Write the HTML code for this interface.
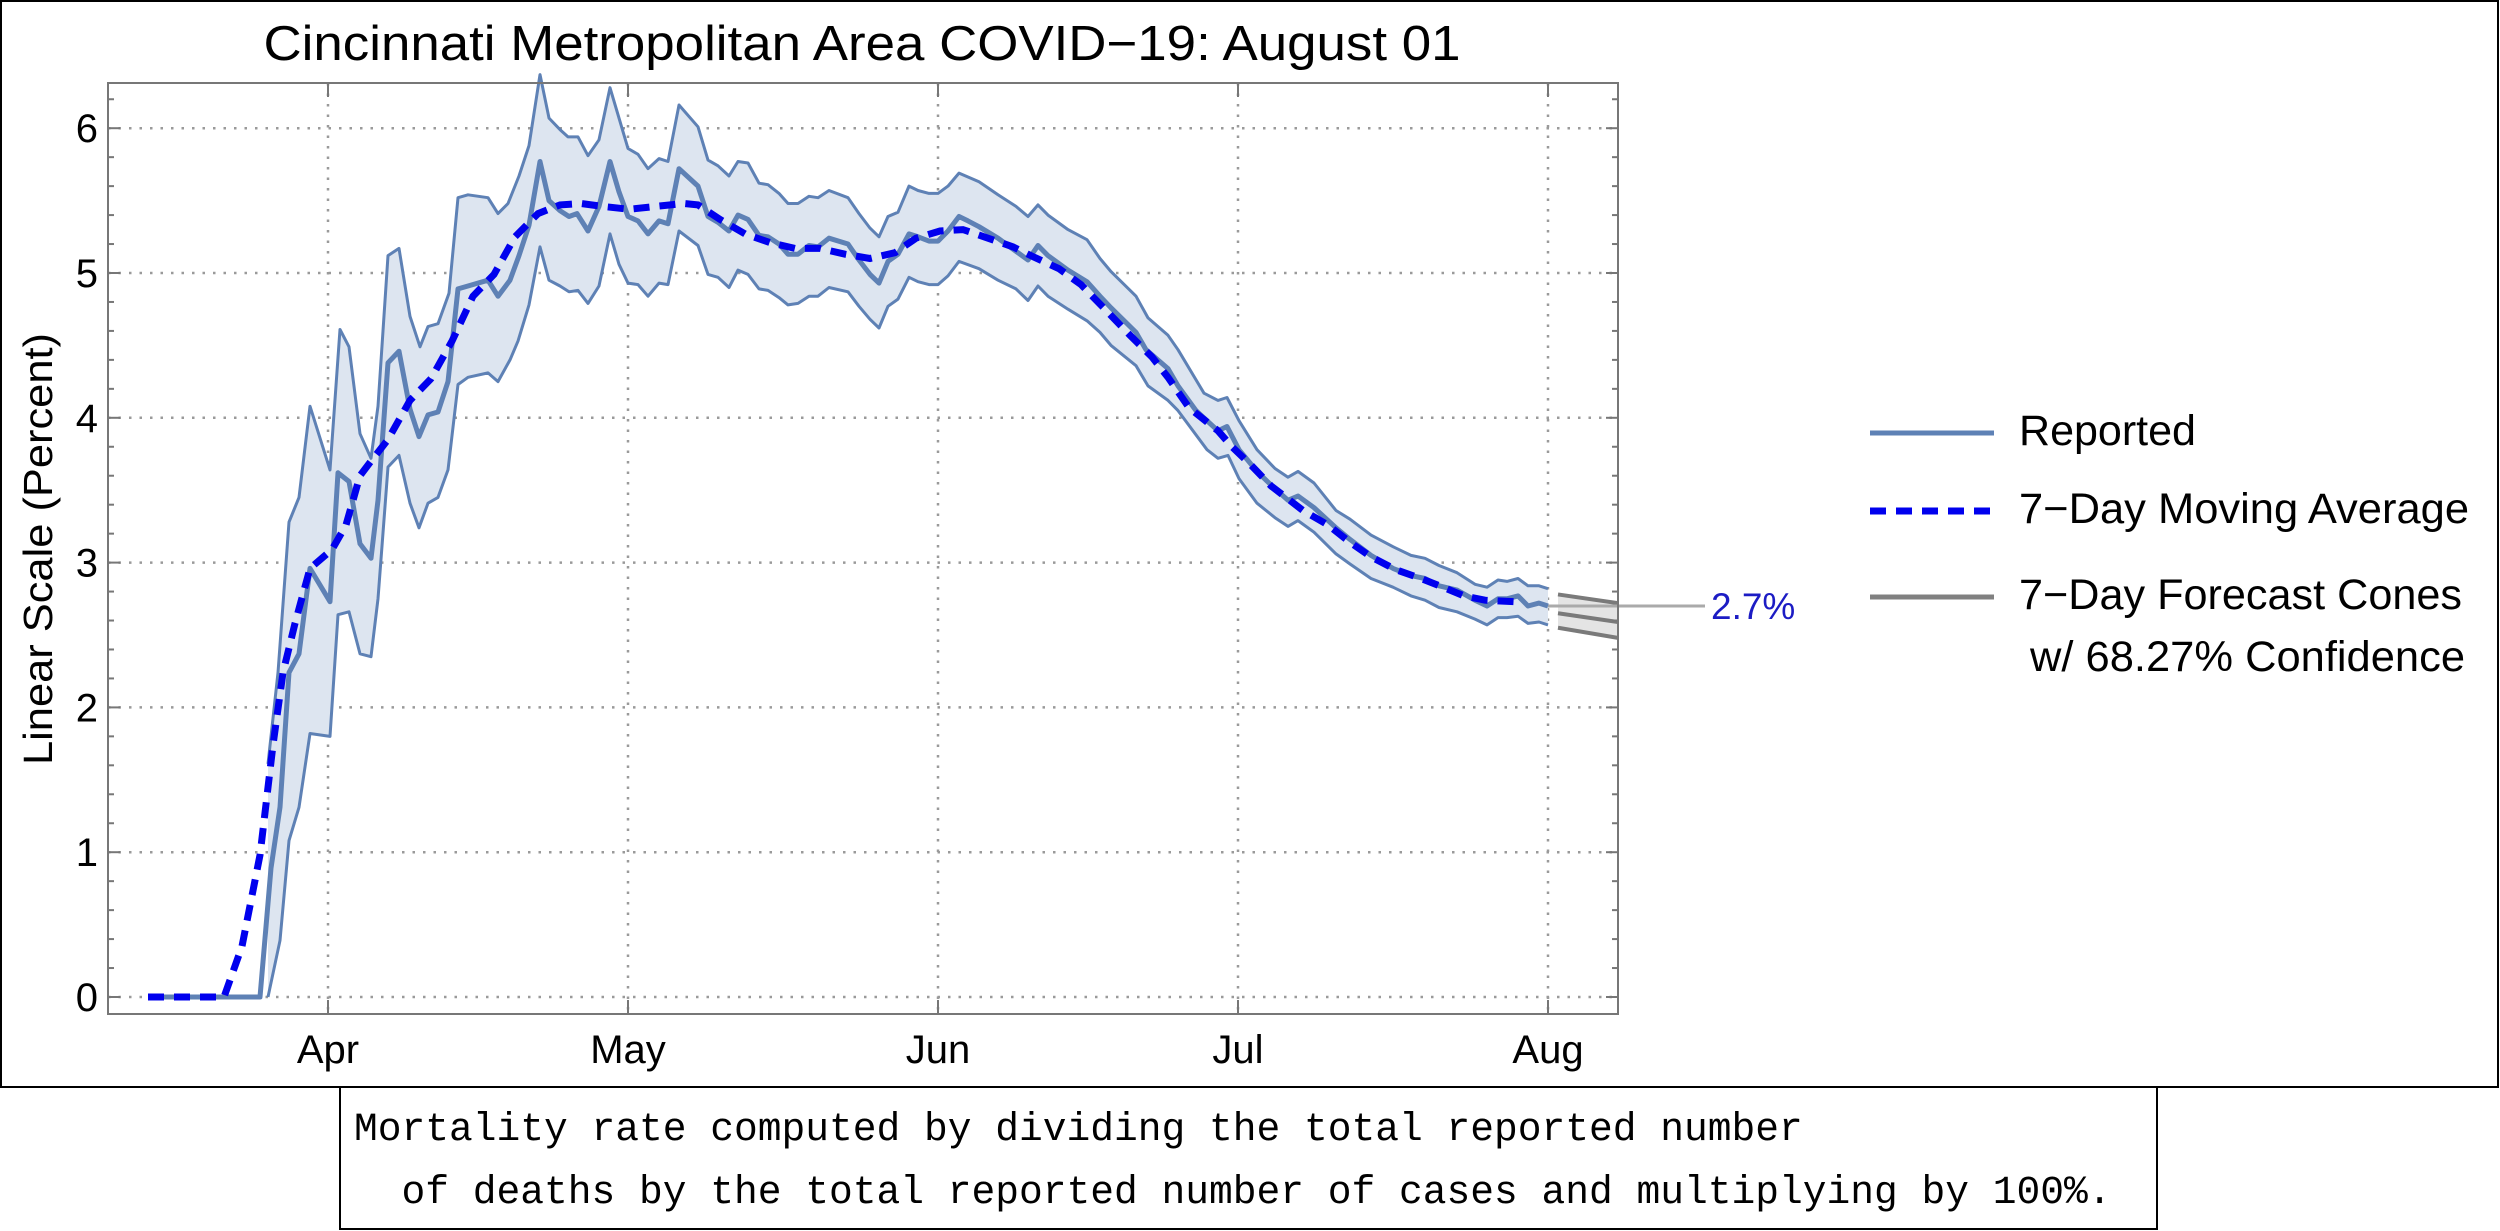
<!DOCTYPE html>
<html><head><meta charset="utf-8"><title>Cincinnati COVID-19 Mortality</title>
<style>
html,body{margin:0;padding:0;background:#fff;}
svg{display:block;}
text{font-family:"Liberation Sans",sans-serif;}
.mono{font-family:"Liberation Mono","DejaVu Sans Mono",monospace;}
</style></head>
<body>
<svg id="chart" xmlns="http://www.w3.org/2000/svg" width="2500" height="1231" viewBox="0 0 2500 1231">
  <rect x="1" y="1" width="2497" height="1086" fill="#fff" stroke="#000" stroke-width="2"/>
  <text x="862" y="60" font-size="49" text-anchor="middle" textLength="1197" lengthAdjust="spacingAndGlyphs">Cincinnati Metropolitan Area COVID−19: August 01</text>
  <text transform="translate(52,549) rotate(-90)" font-size="41" text-anchor="middle" textLength="432" lengthAdjust="spacingAndGlyphs">Linear Scale (Percent)</text>
  <g id="grid"></g>
  <g id="marks"></g>
  <rect x="108" y="83" width="1510" height="931" fill="none" stroke="#777" stroke-width="2"/>
  <g id="ticks"></g>
  <g id="legend">
    <line x1="1870" y1="433" x2="1994" y2="433" stroke="#5e81b5" stroke-width="5"/>
    <text x="2019" y="445" font-size="43" textLength="177" lengthAdjust="spacingAndGlyphs">Reported</text>
    <line x1="1870" y1="511" x2="1990" y2="511" stroke="#0000ee" stroke-width="7" stroke-dasharray="16 10"/>
    <text x="2019" y="523" font-size="43" textLength="450" lengthAdjust="spacingAndGlyphs">7−Day Moving Average</text>
    <line x1="1870" y1="597" x2="1994" y2="597" stroke="#808080" stroke-width="5"/>
    <text x="2019" y="609" font-size="43" textLength="443" lengthAdjust="spacingAndGlyphs">7−Day Forecast Cones</text>
    <text x="2030" y="671" font-size="43" textLength="435" lengthAdjust="spacingAndGlyphs">w/ 68.27% Confidence</text>
  </g>
  <rect x="340" y="1087" width="1817" height="142" fill="#fff" stroke="#000" stroke-width="2"/>
  <text class="mono" x="354" y="1140" font-size="39.6" xml:space="preserve">Mortality rate computed by dividing the total reported number</text>
  <text class="mono" x="354" y="1203" font-size="39.6" xml:space="preserve">  of deaths by the total reported number of cases and multiplying by 100%.</text>
</svg>
<script>
// ---- data (x = days since Apr 1, y = percent) ----
const monthTickDays = [0, 30, 61, 91, 122];
const monthTickLabels = ['Apr', 'May', 'Jun', 'Jul', 'Aug'];
const yTickValues = [0, 1, 2, 3, 4, 5, 6];
const reported = [[-18,0],[-6.8,0],[-5.7,0.89],[-4.8,1.31],[-3.9,2.24],[-2.9,2.37],[-1.8,2.96],[0.2,2.73],[1,3.62],[2.1,3.56],[3.2,3.13],[4.3,3.03],[5,3.43],[6,4.38],[7.1,4.46],[8.2,4.06],[9.1,3.87],[10,4.02],[11,4.04],[12,4.25],[13,4.89],[14,4.91],[16,4.95],[17,4.84],[18.2,4.95],[19.1,5.12],[20.1,5.33],[21.2,5.77],[22.1,5.50],[23.2,5.43],[24.1,5.39],[24.9,5.41],[26,5.29],[27.1,5.46],[28.2,5.77],[29.1,5.56],[30,5.39],[31,5.36],[32,5.27],[33.1,5.36],[34,5.34],[35.1,5.72],[37,5.60],[38,5.39],[39,5.35],[40.1,5.29],[41,5.40],[42,5.37],[43.1,5.26],[44,5.25],[45.1,5.20],[46,5.13],[47,5.13],[48.1,5.19],[49,5.18],[50.1,5.24],[52,5.20],[53.1,5.09],[54.2,4.99],[55.1,4.93],[56,5.08],[57,5.13],[58.1,5.27],[59,5.25],[60.1,5.22],[61,5.22],[62,5.29],[63.1,5.39],[64,5.36],[65.1,5.32],[67,5.24],[68.8,5.15],[70,5.09],[71,5.19],[72,5.12],[74,5.02],[75.9,4.94],[77.2,4.84],[78.3,4.76],[80.8,4.59],[81.8,4.47],[84,4.34],[85,4.22],[86.8,4.05],[89,3.91],[89.9,3.94],[91.1,3.78],[92.9,3.63],[94.7,3.51],[96,3.43],[97,3.46],[98.6,3.38],[100.8,3.24],[102.2,3.16],[104.3,3.05],[106.5,2.96],[108.3,2.91],[109.7,2.89],[111.1,2.84],[112.9,2.81],[114.7,2.74],[115.9,2.70],[117,2.75],[117.9,2.75],[119,2.77],[120,2.70],[121.1,2.72],[122,2.70]];
const upperBand = [[-6,1.61],[-5,2.24],[-3.9,3.28],[-2.9,3.45],[-1.8,4.08],[0.2,3.64],[1.2,4.61],[2.1,4.49],[3.2,3.89],[4.3,3.72],[5,4.08],[6,5.12],[7.1,5.17],[8.2,4.70],[9.2,4.49],[10,4.63],[11,4.65],[12.1,4.86],[13,5.52],[14,5.54],[16,5.52],[17,5.41],[18,5.48],[19.1,5.67],[20.1,5.88],[21.2,6.37],[22.1,6.07],[23.2,5.99],[24,5.94],[25,5.94],[26,5.81],[27.1,5.92],[28.2,6.28],[29.1,6.07],[30,5.86],[31,5.82],[32,5.72],[33.1,5.79],[34,5.77],[35.1,6.16],[37,6.01],[38,5.78],[39,5.74],[40.1,5.67],[41,5.77],[42,5.76],[43.1,5.62],[44,5.61],[45.1,5.55],[46,5.48],[47,5.48],[48.1,5.53],[49,5.52],[50.1,5.57],[52,5.52],[53.1,5.41],[54.2,5.31],[55.1,5.25],[56,5.39],[57,5.42],[58.1,5.60],[59,5.57],[60.1,5.55],[61,5.55],[62,5.60],[63.1,5.69],[65.1,5.63],[67,5.54],[68.8,5.46],[70,5.39],[71,5.47],[72,5.40],[74,5.30],[75.9,5.23],[77.2,5.10],[78.3,5.01],[80.8,4.84],[82,4.69],[84,4.57],[85,4.47],[87.6,4.17],[89,4.12],[89.9,4.14],[91.1,3.98],[92.9,3.78],[94.7,3.65],[96,3.59],[97,3.63],[98.6,3.55],[100.8,3.36],[102.2,3.30],[104.3,3.19],[106.5,3.11],[108.3,3.05],[109.7,3.03],[111.1,2.98],[112.9,2.93],[114.7,2.85],[115.9,2.83],[117,2.88],[117.9,2.87],[119,2.89],[120,2.84],[121.1,2.84],[122,2.82]];
const lowerBand = [[-6,0],[-4.8,0.39],[-3.9,1.08],[-2.9,1.31],[-1.8,1.82],[0.2,1.80],[1,2.64],[2.1,2.66],[3.2,2.37],[4.3,2.35],[5,2.75],[6,3.66],[7.1,3.74],[8.2,3.41],[9.1,3.24],[10,3.41],[11,3.45],[12,3.64],[13,4.23],[14,4.28],[16,4.31],[17,4.25],[18.2,4.40],[19,4.53],[20.1,4.78],[21.2,5.18],[22.1,4.95],[23.2,4.91],[24.1,4.87],[25,4.88],[26,4.79],[27.1,4.91],[28.2,5.27],[29.1,5.06],[30,4.93],[31,4.92],[32,4.84],[33.1,4.93],[34,4.92],[35.1,5.29],[37,5.19],[38,4.99],[39,4.97],[40.1,4.90],[41,5.02],[42,4.99],[43.1,4.89],[44,4.88],[45.1,4.83],[46,4.78],[47,4.79],[48.1,4.84],[49,4.84],[50.1,4.90],[52,4.87],[53.1,4.77],[54.2,4.68],[55.1,4.62],[56,4.77],[57,4.82],[58.1,4.97],[59,4.94],[60.1,4.92],[61,4.92],[62,4.98],[63.1,5.08],[65.1,5.03],[67,4.95],[68.8,4.89],[70,4.81],[71,4.91],[72,4.84],[74,4.75],[75.9,4.67],[77.2,4.59],[78.3,4.50],[80.8,4.36],[82,4.22],[84,4.12],[85,4.05],[87.9,3.78],[89,3.72],[90,3.74],[91.1,3.58],[92.9,3.41],[94.7,3.31],[96,3.25],[97,3.29],[98.6,3.21],[100.8,3.06],[102.2,2.99],[104.3,2.89],[106.5,2.83],[108.3,2.77],[109.7,2.74],[111.1,2.69],[112.9,2.66],[114.7,2.61],[115.9,2.57],[117,2.62],[117.9,2.62],[119,2.63],[120,2.58],[121.1,2.59],[122,2.57]];
const movingAverage = [[-18,0],[-10.4,0],[-8.6,0.35],[-6.8,0.98],[-5.5,1.74],[-4.5,2.24],[-3.3,2.58],[-1.8,2.96],[0.4,3.09],[1.8,3.26],[3.2,3.60],[4.3,3.70],[6,3.85],[8.2,4.12],[10.3,4.27],[12.4,4.53],[14.5,4.84],[16.6,4.99],[18.7,5.25],[21,5.41],[23.2,5.47],[25.3,5.48],[27.5,5.46],[30.1,5.44],[32.8,5.46],[35.6,5.48],[37,5.47],[39.2,5.37],[41.7,5.27],[44.2,5.21],[46.7,5.17],[49.2,5.17],[51.7,5.13],[54.2,5.10],[56.7,5.14],[58.8,5.24],[61.2,5.29],[63.5,5.30],[65.6,5.25],[68.5,5.18],[70.6,5.11],[73.1,5.03],[75.3,4.92],[77.7,4.75],[80.2,4.57],[82.4,4.42],[84,4.28],[86.1,4.07],[89,3.91],[90.4,3.80],[92.2,3.68],[94.3,3.53],[97.5,3.36],[100,3.26],[102.2,3.14],[104.3,3.04],[106.8,2.95],[109.3,2.89],[111.5,2.83],[113.6,2.77],[115.7,2.74],[118.6,2.73]];
const forecastDays = [123, 129];
const forecastUpper = [2.78, 2.72];
const forecastMid = [2.65, 2.59];
const forecastLower = [2.55, 2.48];
const latestValue = 2.7;
const latestLabel = '2.7%';

// ---- scales ----
const X0 = 328, PX_PER_DAY = 10.0;
const Y0 = 997, PX_PER_UNIT = 144.8;
const PLOT = {l: 108, r: 1618, t: 83, b: 1014};
function xs(d) { return X0 + d * PX_PER_DAY; }
function ys(v) { return Y0 - v * PX_PER_UNIT; }
const NS = 'http://www.w3.org/2000/svg';
function mk(tag, attrs, parent) {
  const e = document.createElementNS(NS, tag);
  for (const k in attrs) e.setAttribute(k, attrs[k]);
  parent.appendChild(e);
  return e;
}
function pts(arr) { return arr.map(p => xs(p[0]).toFixed(1) + ',' + ys(p[1]).toFixed(1)).join(' '); }

const grid = document.getElementById('grid');
const marks = document.getElementById('marks');
const ticks = document.getElementById('ticks');
const svg = document.getElementById('chart');

// clip
const defs = mk('defs', {}, svg);
const cp = mk('clipPath', {id: 'plotclip'}, defs);
mk('rect', {x: PLOT.l, y: PLOT.t, width: PLOT.r - PLOT.l, height: PLOT.b - PLOT.t}, cp);

// gridlines
yTickValues.forEach(v => {
  const g = mk('line', {x1: PLOT.l, x2: PLOT.r, y1: ys(v), y2: ys(v), stroke: '#9a9a9a', 'stroke-width': 2.5, 'stroke-dasharray': '2.5 8'}, grid);
  
  
});
monthTickDays.forEach(d => {
  const g = mk('line', {x1: xs(d), x2: xs(d), y1: PLOT.t, y2: PLOT.b, stroke: '#9a9a9a', 'stroke-width': 2.5, 'stroke-dasharray': '2.5 8'}, grid);
  
  
});

// band
const bandPts = pts(upperBand) + ' ' + pts(lowerBand.slice().reverse());
const band = mk('polygon', {points: bandPts, fill: '#dde5f0', stroke: 'none'}, marks);



// forecast cone
const cg = mk('g', {'clip-path': 'url(#plotclip)'}, marks);
const conePts = forecastDays.map((d, i) => xs(d) + ',' + ys(forecastUpper[i])).join(' ') + ' ' +
  forecastDays.slice().reverse().map((d, i) => xs(d) + ',' + ys(forecastLower[forecastDays.length - 1 - i])).join(' ');
const cone = mk('polygon', {points: conePts, fill: '#e4e4e4'}, cg);


[[forecastUpper, 'forecast-upper'], [forecastMid, 'forecast-mid'], [forecastLower, 'forecast-lower']].forEach(([arr, nm]) => {
  const l = mk('polyline', {points: forecastDays.map((d, i) => xs(d) + ',' + ys(arr[i])).join(' '), fill: 'none', stroke: '#7a7a7a', 'stroke-width': 4}, cg);
  
  
});

// latest value leader line
const lead = mk('line', {x1: xs(122), x2: 1705, y1: ys(latestValue), y2: ys(latestValue), stroke: '#aaaaaa', 'stroke-width': 3}, marks);


const lbl = mk('text', {x: 1711, y: ys(latestValue) + 13, 'font-size': 37, fill: '#1c1cc4'}, marks);


lbl.textContent = latestLabel;

// band edges
[[upperBand, 'band-upper-edge'], [lowerBand, 'band-lower-edge']].forEach(([arr, nm]) => {
  const l = mk('polyline', {points: pts(arr), fill: 'none', stroke: '#5e81b5', 'stroke-width': 3, 'stroke-linejoin': 'round'}, marks);
  
  
});
// reported
const rep = mk('polyline', {points: pts(reported), fill: 'none', stroke: '#5e81b5', 'stroke-width': 5, 'stroke-linejoin': 'round'}, marks);


// moving average
const ma = mk('polyline', {points: pts(movingAverage), fill: 'none', stroke: '#0000ee', 'stroke-width': 7, 'stroke-dasharray': '16 10'}, marks);



// y ticks (major + minor) and labels
for (let i = 0; i <= 31; i++) {
  const v = i * 0.2;
  const major = i % 5 === 0;
  const len = major ? 12 : 6;
  [[PLOT.l, PLOT.l + len], [PLOT.r, PLOT.r - len]].forEach(([a, b]) => {
    const t = mk('line', {x1: a, x2: b, y1: ys(v), y2: ys(v), stroke: '#777', 'stroke-width': 2}, ticks);
    
    
  });
}
yTickValues.forEach(v => {
  const t = mk('text', {x: 98, y: ys(v) + 14, 'font-size': 40, 'text-anchor': 'end'}, ticks);
  
  
  t.textContent = String(v);
});
// x ticks and labels
monthTickDays.forEach((d, i) => {
  const t = mk('line', {x1: xs(d), x2: xs(d), y1: PLOT.b, y2: PLOT.b - 14, stroke: '#777', 'stroke-width': 2}, ticks);
  
  
  const t2 = mk('line', {x1: xs(d), x2: xs(d), y1: PLOT.t, y2: PLOT.t + 14, stroke: '#777', 'stroke-width': 2}, ticks);
  
  
  const lab = mk('text', {x: xs(d), y: 1063, 'font-size': 40, 'text-anchor': 'middle'}, ticks);
  
  
  lab.textContent = monthTickLabels[i];
});
</script>
</body></html>
